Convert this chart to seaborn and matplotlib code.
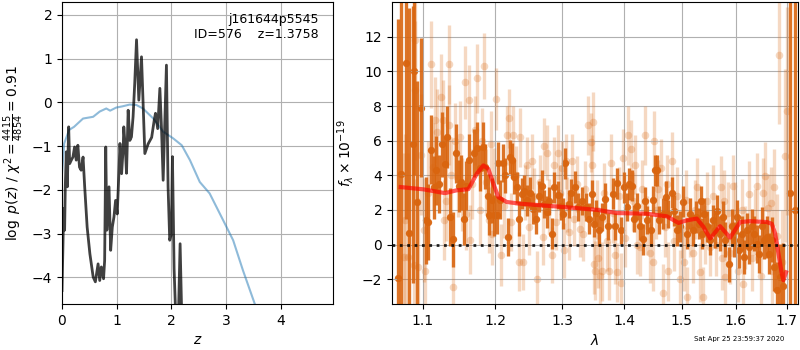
import numpy as np
import seaborn as sns
import matplotlib
matplotlib.use("Agg")
import matplotlib.pyplot as plt
from matplotlib.ticker import NullLocator

# --- left panel: redshift fit ---
z_grid = [0.0, 0.018, 0.03, 0.048, 0.06, 0.079, 0.097, 0.122, 0.14, 0.17,
          0.20, 0.23, 0.26, 0.29, 0.32, 0.35, 0.385, 0.415, 0.46, 0.51,
          0.57, 0.61, 0.66, 0.69, 0.72, 0.76, 0.78, 0.80, 0.82, 0.86,
          0.89, 0.92, 0.95, 0.98, 1.01, 1.04, 1.06, 1.09, 1.12, 1.13,
          1.16, 1.18, 1.21, 1.24, 1.27, 1.30, 1.33, 1.363, 1.405, 1.454,
          1.515, 1.575, 1.64, 1.685, 1.71, 1.75, 1.79, 1.82, 1.85, 1.91,
          1.94, 1.97, 2.0, 2.02, 2.05, 2.08, 2.12, 2.16, 2.19, 2.25]
logpz = [-4.30, -3.23, -2.43, -2.92, -1.93, -1.13, -1.93, -0.56, -1.40, -1.32,
         -1.25, -1.02, -1.32, -0.98, -1.48, -1.55, -1.25, -1.93, -2.85, -3.46,
         -3.99, -4.10, -3.69, -4.07, -3.76, -4.03, -3.61, -1.02, -2.92, -1.93,
         -3.38, -2.85, -2.62, -2.24, -2.55, -1.63, -0.94, -1.63, -1.02, -0.56,
         -1.09, -1.62, -0.18, -0.87, -0.79, -0.33, 0.43, 1.43, 0.05, 1.04,
         -1.17, -0.95, -0.80, -0.42, -0.25, -0.60, 0.32, -0.60, -1.78, 0.85,
         -1.93, -3.15, -3.00, -1.24, -3.80, -4.90, -5.40, -3.23, -4.90, -8.0]

z_prior = [0.0, 0.04, 0.13, 0.22, 0.385, 0.57, 0.69, 0.81, 0.88, 0.99,
           1.11, 1.24, 1.36, 1.48, 1.67, 1.85, 2.03, 2.19, 2.34, 2.52,
           2.70, 2.95, 3.13, 3.31, 3.53, 3.75, 4.0]
logp_prior = [-1.63, -0.94, -0.63, -0.56, -0.37, -0.33, -0.21, -0.14, -0.19, -0.12,
              -0.09, -0.05, -0.06, -0.14, -0.37, -0.67, -0.82, -0.98, -1.32, -1.82,
              -2.08, -2.70, -3.15, -3.84, -4.62, -5.5, -6.5]

# --- right panel: spectrum ---
wave_a = [1.0679, 1.0722, 1.0782, 1.0825, 1.0869, 1.0890, 1.0925, 1.0977, 1.1043, 1.1069,
          1.1114, 1.1154, 1.1180, 1.1221, 1.1257, 1.1302, 1.1325, 1.1370, 1.1407, 1.1452,
          1.1485, 1.1521, 1.1554, 1.1586, 1.1632, 1.1693, 1.1739, 1.1781, 1.1819, 1.1856,
          1.1890, 1.1913, 1.1952, 1.1976, 1.2019, 1.2043, 1.2067, 1.2115, 1.2139, 1.2187,
          1.2212, 1.2246, 1.2275, 1.2310, 1.2344, 1.2385, 1.2419, 1.2460, 1.2509, 1.2559,
          1.2595, 1.2644, 1.2685, 1.2724, 1.2761, 1.2797, 1.2838, 1.2878, 1.2931, 1.2974,
          1.3017, 1.3044, 1.3106, 1.3138, 1.3201, 1.3253, 1.3307, 1.3371, 1.3424, 1.3468,
          1.3505, 1.3532, 1.3586, 1.3630, 1.3683, 1.3737, 1.3810, 1.3848, 1.3886, 1.3943,
          1.3997, 1.4043, 1.4082, 1.4128, 1.4172, 1.4212, 1.4268, 1.4314, 1.4354, 1.4394,
          1.4452, 1.4492, 1.4527, 1.4557, 1.4602, 1.4662, 1.4720, 1.4760, 1.4820, 1.4861,
          1.4909, 1.4968, 1.5027, 1.5099, 1.5148, 1.5197, 1.5257, 1.5306, 1.5339, 1.5367,
          1.5404, 1.5454, 1.5515, 1.5565, 1.5608, 1.5651, 1.5701, 1.5752, 1.5796, 1.5878,
          1.5922, 1.5966, 1.6019, 1.6069, 1.6115, 1.6159, 1.6211, 1.6261, 1.6308, 1.6353,
          1.6406, 1.6457, 1.6505, 1.6550, 1.6604, 1.6655, 1.6703, 1.6749, 1.6803, 1.6870,
          1.6936, 1.7072, 1.7174]
flux_a = [-1.95, 4.10, 10.50, 0.65, 5.80, 10.00, 2.45, 7.90, 1.40, 1.30,
          5.47, 3.30, 4.28, 3.50, 5.78, 4.67, 6.20, 1.59, 0.30, 5.28,
          3.40, 3.60, 1.50, 3.40, 4.90, 5.30, 5.60, 4.40, 5.66, 4.50,
          2.78, 1.73, 2.55, 1.68, 1.69, 4.70, 2.60, 4.70, 3.99, 0.44,
          5.05, 4.86, 3.90, 3.30, 1.50, 2.93, 3.10, 2.55, 3.00, 2.07,
          1.50, 2.78, 3.40, 2.35, 1.88, 2.50, 0.63, 3.30, 2.85, 2.20,
          1.78, 4.70, 2.35, 2.97, 3.32, 2.17, 2.50, 2.15, 1.50, 2.93,
          1.21, 1.80, 0.82, 1.59, 2.66, 1.05, 2.93, 1.05, 3.55, 0.82,
          3.30, 2.17, 3.50, 3.40, 1.50, 2.20, 1.05, 0.30, 2.50, 1.40,
          0.82, 2.60, 4.28, 4.28, 1.40, 1.78, 2.75, 1.78, 3.00, 1.95,
          0.82, 1.05, 2.47, 0.63, 1.78, 0.82, 1.59, 1.21, 2.50, 0.63,
          1.78, 1.05, 0.28, 1.40, 0.82, 1.95, 0.63, 1.59, 0.28, -1.15,
          1.05, 0.28, 1.59, -0.33, 0.63, -0.71, 0.82, -0.14, 1.05, 0.63,
          0.05, -0.52, 1.05, 0.28, 0.44, -0.52, 0.28, -1.29, -2.63, -1.86,
          -2.40, 3.00, 2.00]
err_a = [15, 11, 9, 13, 8, 6, 7, 4, 2.5, 2.2,
         2.0, 1.8, 2.0, 1.7, 1.9, 1.6, 1.8, 1.7, 1.6, 1.7,
         1.5, 1.6, 1.5, 1.4, 1.5, 1.4, 1.5, 1.3, 1.4, 1.3,
         1.3, 1.2, 1.3, 1.2, 1.1, 1.2, 1.1, 1.1, 1.0, 1.1,
         1.0, 1.0, 1.0, 0.9, 1.0, 0.9, 0.9, 0.9, 0.9, 0.9,
         0.9, 0.9, 0.9, 0.8, 0.9, 0.8, 0.9, 0.9, 0.8, 0.8,
         0.9, 0.9, 0.8, 0.8, 0.9, 0.8, 0.8, 0.8, 0.9, 0.8,
         0.8, 0.8, 0.9, 0.8, 0.9, 0.8, 0.9, 0.8, 0.9, 0.8,
         0.9, 0.8, 0.9, 0.9, 0.8, 0.8, 0.8, 0.9, 0.8, 0.8,
         0.9, 0.8, 0.9, 0.9, 0.8, 0.9, 0.9, 0.8, 0.9, 0.9,
         0.9, 0.9, 0.9, 0.9, 0.9, 0.9, 0.9, 0.9, 0.9, 0.9,
         0.9, 0.9, 0.9, 0.9, 1.0, 0.9, 1.0, 0.9, 1.0, 1.0,
         1.0, 1.0, 1.0, 1.0, 1.0, 1.0, 1.0, 1.0, 1.0, 1.0,
         1.1, 1.1, 1.1, 1.1, 1.2, 1.2, 1.3, 1.4, 1.6, 1.9,
         2.5, 25, 25]

wave_b = [1.0760, 1.0773, 1.0804, 1.0882, 1.0895, 1.0903, 1.0934, 1.0981, 1.1020, 1.1034,
          1.1069, 1.1114, 1.1137, 1.1167, 1.1190, 1.1248, 1.1271, 1.1280, 1.1316, 1.1348,
          1.1356, 1.1380, 1.1407, 1.1434, 1.1475, 1.1507, 1.1531, 1.1568, 1.1586, 1.1632,
          1.1641, 1.1669, 1.1707, 1.1739, 1.1785, 1.1809, 1.1842, 1.1866, 1.1905, 1.1937,
          1.1952, 1.1981, 1.2014, 1.2082, 1.2125, 1.2164, 1.2197, 1.2227, 1.2260, 1.2300,
          1.2344, 1.2359, 1.2409, 1.2434, 1.2460, 1.2494, 1.2535, 1.2569, 1.2619, 1.2659,
          1.2709, 1.2724, 1.2761, 1.2797, 1.2838, 1.2878, 1.2904, 1.2940, 1.2966, 1.3002,
          1.3033, 1.3055, 1.3075, 1.3106, 1.3159, 1.3186, 1.3233, 1.3280, 1.3333, 1.3360,
          1.3403, 1.3451, 1.3477, 1.3493, 1.3505, 1.3521, 1.3553, 1.3574, 1.3602, 1.3630,
          1.3667, 1.3716, 1.3754, 1.3782, 1.3815, 1.3848, 1.3886, 1.3914, 1.3943, 1.3986,
          1.4014, 1.4060, 1.4111, 1.4150, 1.4183, 1.4217, 1.4268, 1.4302, 1.4354, 1.4388,
          1.4440, 1.4487, 1.4515, 1.4544, 1.4584, 1.4626, 1.4672, 1.4702, 1.4737, 1.4760,
          1.4820, 1.4861, 1.4915, 1.4968, 1.5004, 1.5040, 1.5076, 1.5099, 1.5148, 1.5208,
          1.5239, 1.5281, 1.5330, 1.5391, 1.5422, 1.5454, 1.5515, 1.5576, 1.5627, 1.5714,
          1.5739, 1.5777, 1.5796, 1.5847, 1.5890, 1.5953, 1.5986, 1.6049, 1.6115, 1.6134,
          1.6178, 1.6261, 1.6314, 1.6373, 1.6418, 1.6485, 1.6524, 1.6570, 1.6635, 1.6683,
          1.6709, 1.6749, 1.6809, 1.6855, 1.6910, 1.6971, 1.7017]
flux_b = [-0.71, 1.40, -0.71, -1.19, 11.80, 8.90, -1.29, 5.20, 0.82, -1.55,
          3.00, 10.40, 4.50, 7.20, 6.50, 8.50, 7.20, 1.40, 2.50, 6.90,
          10.40, 4.00, -2.44, 6.00, 3.80, 6.20, 2.90, 9.37, 1.78, 8.35,
          0.28, 3.50, 6.60, 9.60, 2.00, 6.00, 10.30, 3.60, 1.40, 5.80,
          0.60, 3.80, 8.40, -0.60, 2.20, 6.30, 7.30, 1.30, 6.30, 4.00,
          -1.00, 6.20, -1.00, 3.00, 4.60, 1.00, 4.80, 2.80, -2.00, 3.60,
          0.44, 5.70, 5.30, 2.20, -0.60, 4.60, 1.30, 5.30, 3.00, 4.40,
          -0.33, 4.80, 2.30, 0.72, 4.80, 1.50, 3.50, 0.90, 0.63, 3.20,
          6.90, 5.90, 4.60, 7.10, -1.15, -1.50, 2.00, -0.80, -1.80, -1.55,
          3.00, 0.20, -1.50, 4.70, 1.80, -0.60, -1.60, 2.80, -2.20, 5.00,
          0.40, 6.30, 5.50, 2.50, 4.60, 0.00, -0.14, 3.20, 6.30, 1.10,
          -0.50, -1.00, 6.00, 2.00, 3.20, 4.40, -2.80, 1.00, 3.50, -1.55,
          4.80, 0.20, 2.80, -2.00, 0.90, -1.00, 2.60, -3.00, 1.00, -0.50,
          2.00, 3.30, -1.60, -3.00, 0.60, 2.50, -0.14, 2.80, 0.00, 3.30,
          -0.80, 2.50, -1.85, 1.80, -0.50, 3.40, 1.80, -1.50, 2.00, -2.30,
          0.40, 2.90, -0.80, 1.30, 3.40, -1.80, 3.00, 3.95, 2.10, 2.40,
          -1.50, 3.30, 0.50, 10.96, -1.00, 5.14, 7.70]
err_b = [6, 5, 6, 5, 4, 4, 4, 3.5, 3, 3,
         3, 2.5, 2.5, 2.5, 2.5, 2.5, 2.3, 2.3, 2.3, 2.3,
         2.3, 2.2, 2.2, 2.2, 2.2, 2.1, 2.1, 2.1, 2.1, 2.0,
         2.0, 2.0, 2.0, 2.0, 2.0, 1.9, 1.9, 1.9, 1.9, 1.9,
         1.8, 1.8, 1.8, 1.8, 1.8, 1.7, 1.7, 1.7, 1.7, 1.7,
         1.7, 1.7, 1.6, 1.6, 1.6, 1.6, 1.6, 1.6, 1.6, 1.6,
         1.6, 1.6, 1.6, 1.6, 1.6, 1.6, 1.6, 1.6, 1.6, 1.6,
         1.6, 1.6, 1.6, 1.6, 1.6, 1.6, 1.6, 1.6, 1.6, 1.6,
         1.7, 1.7, 1.7, 1.7, 1.7, 1.7, 1.7, 1.7, 1.7, 1.7,
         1.7, 1.7, 1.7, 1.7, 1.7, 1.7, 1.7, 1.7, 1.7, 1.7,
         1.7, 1.7, 1.7, 1.7, 1.7, 1.7, 1.7, 1.7, 1.7, 1.7,
         1.7, 1.7, 1.7, 1.7, 1.7, 1.7, 1.7, 1.7, 1.7, 1.7,
         1.7, 1.7, 1.7, 1.7, 1.7, 1.7, 1.7, 1.7, 1.7, 1.7,
         1.7, 1.7, 1.7, 1.7, 1.7, 1.7, 1.7, 1.8, 1.8, 1.8,
         1.8, 1.8, 1.8, 1.8, 1.8, 1.8, 1.8, 1.8, 1.8, 1.8,
         1.8, 1.9, 1.9, 1.9, 1.9, 1.9, 2.0, 2.0, 2.0, 2.1,
         2.1, 2.2, 2.4, 4.0, 3.0, 5.0, 6.0]

wave_model = [1.0714, 1.1008, 1.1298, 1.1452, 1.1618, 1.1735, 1.1828, 1.1898, 1.1970, 1.2043,
              1.2163, 1.2359, 1.3017, 1.3560, 1.3876, 1.4383, 1.4732, 1.4938, 1.5088, 1.5270,
              1.5391, 1.5515, 1.5701, 1.5890, 1.6082, 1.6275, 1.6604, 1.6703, 1.6769, 1.6836,
              1.6903, 1.6936, 1.6991]
flux_model = [3.32, 3.19, 2.97, 3.13, 3.20, 4.09, 4.57, 4.37, 3.51, 2.74,
              2.46, 2.36, 2.17, 2.00, 1.82, 1.78, 1.63, 1.25, 1.40, 1.50,
              1.02, 0.35, 1.06, 0.40, 1.30, 1.35, 1.30, 1.20, 0.65, -0.50,
              -1.67, -2.06, -1.60]

wave_ticks = [1.1, 1.2, 1.3, 1.4, 1.5, 1.6, 1.7]

orange = "#d9650f"

fig = plt.figure(figsize=(8, 3.5), dpi=100)
ax1 = fig.add_axes([0.0775, 0.131, 0.339, 0.863])
ax2 = fig.add_axes([0.49, 0.131, 0.5075, 0.863])

# redshift panel
sns.lineplot(x=z_prior, y=logp_prior, sort=False, estimator=None, ax=ax1,
             color="tab:blue", alpha=0.5, lw=1.5)
sns.lineplot(x=z_grid, y=logpz, sort=False, estimator=None, ax=ax1,
             color="k", alpha=0.75, lw=2)
ax1.set_xlim(0, 4.96)
ax1.set_ylim(-4.61, 2.29)
ax1.grid(True)
ax1.set_xlabel(r"$z$")
ax1.set_ylabel(r"$\log\ p(z)$ / $\chi^2=\frac{4415}{4854}=0.91$")
ax1.text(0.948, 0.965, "j161644p5545\nID=576    z=1.3758", transform=ax1.transAxes,
         ha="right", va="top", fontsize=9)

# spectrum panel
ax2.errorbar(wave_b, flux_b, yerr=err_b, fmt="none", ecolor=orange, alpha=0.25,
             elinewidth=2.4, capsize=0)
sns.scatterplot(x=wave_b, y=flux_b, ax=ax2, color=orange, alpha=0.25, s=30,
                linewidth=0)
ax2.errorbar(wave_a, flux_a, yerr=err_a, fmt="none", ecolor=orange, alpha=0.9,
             elinewidth=2.4, capsize=0)
sns.scatterplot(x=wave_a, y=flux_a, ax=ax2, color=orange, alpha=0.95, s=28,
                linewidth=0)
sns.lineplot(x=wave_model, y=flux_model, sort=False, estimator=None, ax=ax2,
             color="red", alpha=0.65, lw=3)
ax2.axhline(0, color="k", ls=":", lw=2, alpha=0.85)

ax2.set_xscale("log")
ax2.set_xlim(1.0603, 1.7235)
ax2.set_ylim(-3.44, 14)
ax2.set_xticks(wave_ticks)
ax2.set_xticklabels([str(t) for t in wave_ticks])
ax2.xaxis.set_minor_locator(NullLocator())
ax2.set_yticks([-2, 0, 2, 4, 6, 8, 10, 12])
ax2.grid(True)
ax2.set_xlabel(r"$\lambda$")
ax2.set_ylabel(r"$f_\lambda\times10^{-19}$")

fig.text(784 / 800, 1 - 339 / 350, "Sat Apr 25 23:59:37 2020", ha="right",
         va="center", fontsize=5)

fig.savefig("out.png", dpi=100)
